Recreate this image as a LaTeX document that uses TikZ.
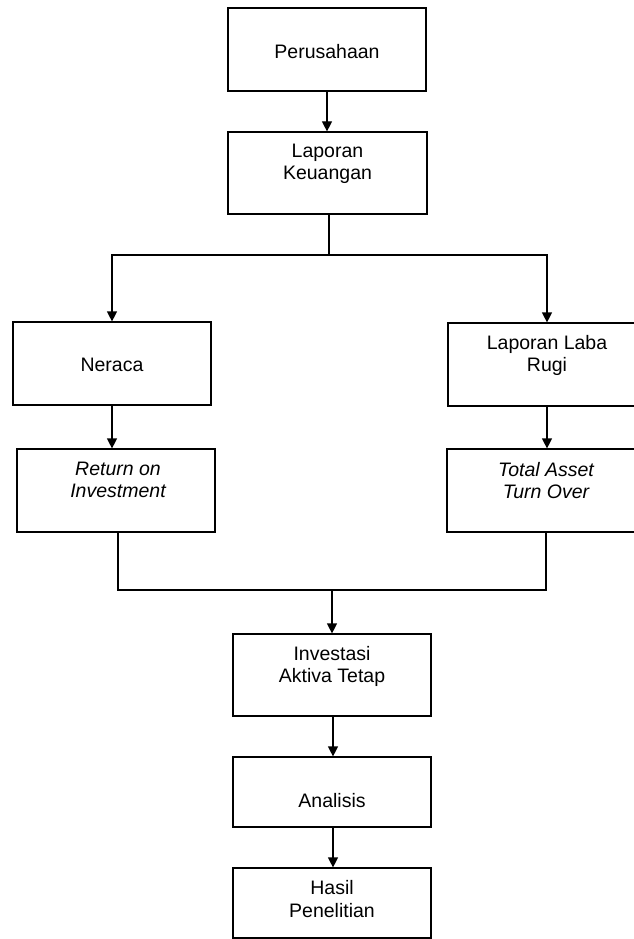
\documentclass[tikz,border=0pt]{standalone}
\usepackage{fontspec}
\setmainfont{Liberation Sans}
\usetikzlibrary{arrows.meta}
\begin{document}
\begin{tikzpicture}[x=1pt,y=-1pt,
  box/.style={draw=black,line width=1.2pt,rectangle,minimum width=198pt,minimum height=83pt,inner sep=0pt},
  shortbox/.style={box,minimum height=70pt},
  txt/.style={align=center,font=\fontsize{19.5pt}{22.5pt}\selectfont,inner sep=0pt},
  link/.style={line width=1.2pt},
  arr/.style={link,-{Triangle[length=10pt,width=10pt]}}]
\useasboundingbox (0,0) rectangle (634,939);
% boxes
\node[box] (pers) at (327,49.5) {};
\node[txt] (perst) at (327,52) {Perusahaan};
\node[box,minimum width=199pt,minimum height=82pt] (lk) at (327.5,173) {};
\node[txt] (lkt) at (327.5,164) {Laporan\\Keuangan};
\node[box] (ner) at (112,363.5) {};
\node[txt] (nert) at (112,365) {Neraca};
\node[box] (llr) at (547,364.5) {};
\node[txt] (llrt) at (547,355.5) {Laporan Laba\\Rugi};
\node[box] (roi) at (116,490.5) {};
\node[txt] (roit) at (118,480) {\itshape Return on\\\itshape Investment};
\node[box] (tato) at (546,490.5) {};
\node[txt] (tatot) at (546,480.5) {\itshape Total Asset\\\itshape Turn Over};
\node[box,minimum height=82pt] (inv) at (332,675) {};
\node[txt] (invt) at (332,666.5) {Investasi\\Aktiva Tetap};
\node[shortbox] (ana) at (332,792) {};
\node[txt] (anat) at (332,801) {Analisis};
\node[shortbox] (has) at (332,903) {};
\node[txt] (hast) at (332,899) {Hasil\\Penelitian};
% connectors
\coordinate (split) at (329,255);
\coordinate (join) at (332,590);
\draw[arr] (pers.south) -- (pers.south |- lk.north);
\draw[link] (lk.south -| split) -- (split);
\draw[arr] (split) -| (ner.north);
\draw[arr] (split) -| (llr.north);
\draw[arr] (ner.south) -- (ner.south |- roi.north);
\draw[arr] (llr.south) -- (llr.south |- tato.north);
\draw[link] ([xshift=2pt]roi.south) |- (join);
\draw[link] (tato.south) |- (join);
\draw[arr] (join) -- (inv.north);
\draw[arr] ([xshift=1pt]inv.south) -- ([xshift=1pt]ana.north);
\draw[arr] ([xshift=1pt]ana.south) -- ([xshift=1pt]has.north);
\end{tikzpicture}
\end{document}
